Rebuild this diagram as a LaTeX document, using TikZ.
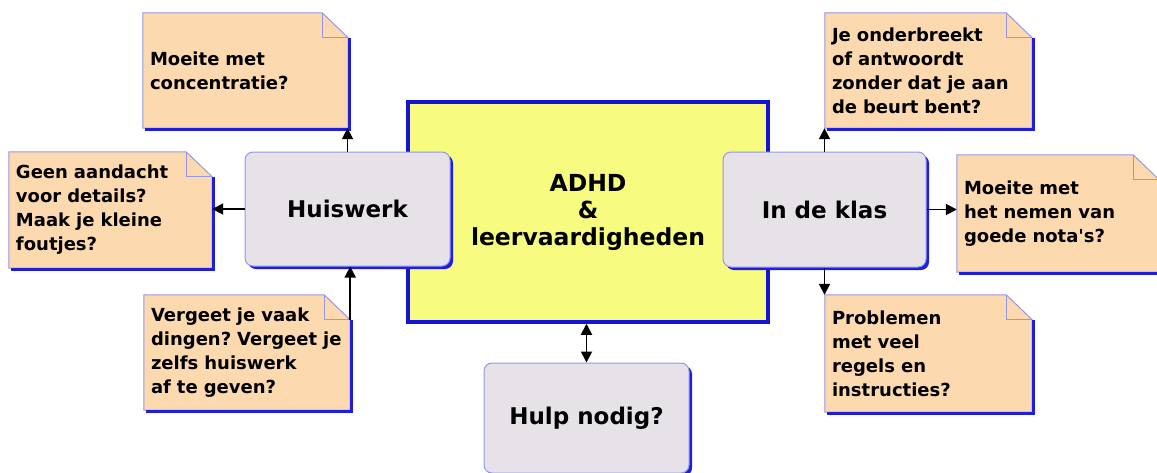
\documentclass[tikz,border=0pt]{standalone}
\usepackage{fontspec}
\setmainfont{DejaVu Sans}
\usetikzlibrary{calc}
\usetikzlibrary{arrows.meta}
\usetikzlibrary{backgrounds}
\usetikzlibrary{shadows}

\definecolor{notepeach}{RGB}{253,217,176}
\definecolor{noteedge}{RGB}{150,150,235}
\definecolor{shadowblue}{RGB}{30,30,225}
\definecolor{boxgray}{RGB}{230,226,232}
\definecolor{hubyellow}{RGB}{247,251,128}
\definecolor{hubblue}{RGB}{20,20,215}

\tikzset{
  note/.style={inner xsep=7pt, inner ysep=0pt, align=left,
    font=\fontsize{18}{24}\selectfont\bfseries},
  noteline/.style={draw=noteedge, line width=1pt},
  shadowline/.style={draw=shadowblue, line width=3pt},
  topic/.style={rectangle, rounded corners=8pt, fill=boxgray, draw=noteedge,
    line width=1pt, inner sep=0pt,
    drop shadow={shadow xshift=3pt, shadow yshift=-3pt, fill=shadowblue, opacity=1},
    font=\fontsize{23}{27}\selectfont\bfseries},
  hub/.style={rectangle, fill=hubyellow, draw=hubblue, line width=3.5pt,
    inner sep=0pt, align=center, minimum width=360pt, minimum height=220pt,
    font=\fontsize{23.5}{27}\selectfont\bfseries},
  link/.style={line width=1.8pt, -{Triangle[length=11pt,width=11pt]}},
}

\begin{document}
\frenchspacing
\begin{tikzpicture}[x=1pt, y=-1pt]
\useasboundingbox (0,0) rectangle (1157,472);

% centre
\node[hub] (adhd) at (588,212) {ADHD\\\&\\leervaardigheden};

% topics
\node[topic, minimum width=205pt, minimum height=114pt] (huiswerk) at (347.5,209) {Huiswerk};
\node[topic, minimum width=203pt, minimum height=115pt] (klas) at (824.5,209.5) {In de klas};
\node[topic, minimum width=205pt, minimum height=110pt] (hulp) at (586.5,418) {Hulp nodig?};

% notes
\node[note, text width=191pt, minimum height=115pt] (concentratie) at (245.5,70.5)
  {Moeite met\\concentratie?};
\node[note, text width=189pt, minimum height=116pt] (details) at (110.5,210)
  {Geen aandacht\\voor details?\\Maak je kleine\\foutjes?};
\node[note, text width=192pt, minimum height=115pt] (vergeten) at (247,352.5)
  {Vergeet je vaak\\dingen? Vergeet je\\zelfs huiswerk\\af te geven?};
\node[note, text width=193pt, minimum height=115pt] (onderbreken) at (928.5,70.5)
  {Je onderbreekt\\of antwoordt\\zonder dat je aan\\de beurt bent?};
\node[note, text width=188pt, minimum height=117pt] (notas) at (1058,213.5)
  {Moeite met\\het nemen van\\goede nota\textquotesingle s?};
\node[note, text width=193pt, minimum height=117pt] (regels) at (928.5,353.5)
  {Problemen\\met veel\\regels en\\instructies?};

\begin{scope}[on background layer]
\foreach \n in {concentratie,details,vergeten,onderbreken,notas,regels}{
  \draw[noteline, fill=notepeach] (\n.south west) -- (\n.north west)
    -- ($(\n.north east)+(-26,0)$) -- ($(\n.north east)+(0,25)$) -- (\n.south east) -- cycle;
  \draw[noteline] ($(\n.north east)+(-26,0)$) |- ($(\n.north east)+(0,25)$);
  \draw[shadowline] ($(\n.north east)+(1.5,25)$) -- ($(\n.south east)+(1.5,1.5)$)
    -- ($(\n.south west)+(2,1.5)$);
}
\end{scope}

% connectors
\coordinate (vergeten fold) at ($(vergeten.north east)+(0,25)$);
\draw[link] (huiswerk.north) -- (huiswerk.north |- concentratie.south);
\draw[link] (huiswerk.west) -- (huiswerk.west -| details.east);
\draw[link] (vergeten fold) -- (vergeten fold |- huiswerk.south);
\draw[link] (klas.north) -- (klas.north |- onderbreken.south);
\draw[link] (klas.east) -- (klas.east -| notas.west);
\draw[link] (klas.south) -- (klas.south |- regels.north);
\draw[link, {Triangle[length=11pt,width=11pt]}-{Triangle[length=11pt,width=11pt]}]
  (hulp.north |- adhd.south) -- (hulp.north);
\end{tikzpicture}
\end{document}
